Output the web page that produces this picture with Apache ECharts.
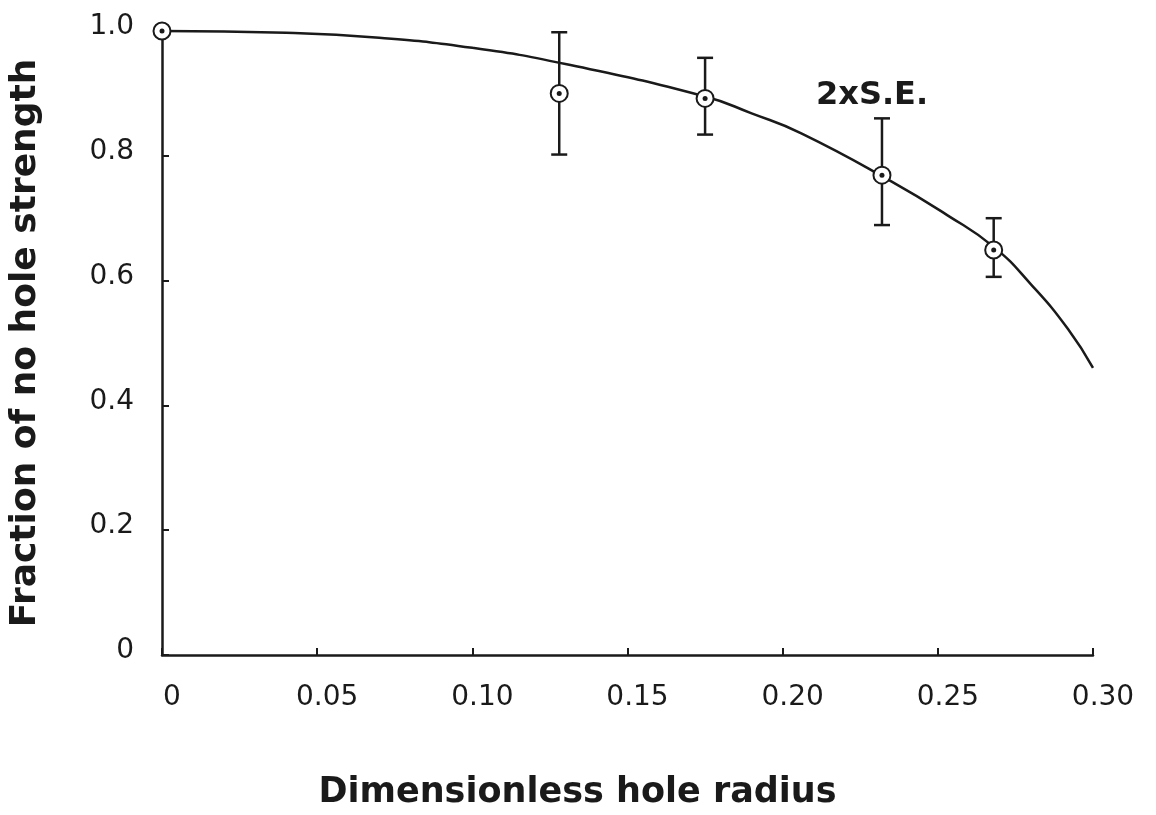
<!DOCTYPE html>
<html>
<head>
<meta charset="utf-8">
<script src="https://cdn.jsdelivr.net/npm/echarts@6/dist/echarts.min.js"></script>
<style>
  html, body { margin: 0; padding: 0; background: #fff; }
  #chart { width: 1156px; height: 815px; }
</style>
</head>
<body>
<div id="chart"></div>
<script>
// Measured strength points (mean and 2 x standard error bounds)
const radius   = [0, 0.128, 0.175, 0.232, 0.268];
const strength = [1.0, 0.900, 0.892, 0.769, 0.649];
const seHigh   = [null, 0.998, 0.957, 0.860, 0.700];
const seLow    = [null, 0.802, 0.834, 0.689, 0.606];

// Fitted curve
const fitRadius   = [0, 0.040, 0.070, 0.100, 0.130, 0.175, 0.190, 0.206, 0.235, 0.253, 0.268, 0.280, 0.292, 0.300];
const fitStrength = [1.0, 0.997, 0.989, 0.973, 0.947, 0.895, 0.868, 0.836, 0.759, 0.705, 0.654, 0.594, 0.522, 0.460];

// Tick labels
const xTickLabels = ['0', '0.05', '0.10', '0.15', '0.20', '0.25', '0.30'];
const yTickLabels = ['0', '0.2', '0.4', '0.6', '0.8', '1.0'];

const ink = '#1a1a1a';
const font = '"DejaVu Sans", sans-serif';

const points = radius.map((r, i) => [r, strength[i]]);
const bars = radius
  .map((r, i) => [r, seLow[i], seHigh[i]])
  .filter(d => d[1] !== null);
const fit = fitRadius.map((r, i) => [r, fitStrength[i]]);

const chart = echarts.init(document.getElementById('chart'), null, { renderer: 'canvas' });

chart.setOption({
  animation: false,
  backgroundColor: '#ffffff',
  grid: { left: 160, right: 63, top: 31, bottom: 157 },
  xAxis: {
    type: 'value',
    min: 0, max: 0.3, interval: 0.05,
    name: 'Dimensionless hole radius',
    nameLocation: 'middle',
    nameGap: 120,
    nameTextStyle: {
      fontFamily: font, fontWeight: 'bold', fontSize: 35, color: ink,
      padding: [0, 100, 0, 0]
    },
    axisLine: { lineStyle: { color: ink, width: 2.5 } },
    axisTick: { inside: true, length: 7, lineStyle: { color: ink, width: 2 } },
    splitLine: { show: false },
    axisLabel: {
      margin: 29,
      fontFamily: font, fontSize: 28, color: ink,
      padding: [0, 0, 0, 20],
      formatter: v => xTickLabels[Math.round(v / 0.05)]
    }
  },
  yAxis: {
    type: 'value',
    min: 0, max: 1, interval: 0.2,
    name: 'Fraction of no hole strength',
    nameLocation: 'middle',
    nameGap: 118,
    nameRotate: 90,
    nameTextStyle: { fontFamily: font, fontWeight: 'bold', fontSize: 36, color: ink },
    axisLine: { lineStyle: { color: ink, width: 2.5 } },
    axisTick: { inside: true, length: 7, lineStyle: { color: ink, width: 2 } },
    splitLine: { show: false },
    axisLabel: {
      margin: 28,
      fontFamily: font, fontSize: 28, color: ink,
      verticalAlign: 'bottom',
      lineHeight: 8,
      formatter: v => yTickLabels[Math.round(v / 0.2)]
    }
  },
  graphic: [{
    type: 'text',
    left: 816, top: 80,
    style: { text: '2xS.E.', font: 'bold 32px "DejaVu Sans", sans-serif', fill: ink }
  }],
  series: [
    {
      type: 'line',
      data: fit,
      smooth: 0.5,
      symbol: 'none',
      clip: false,
      lineStyle: { color: ink, width: 2.5 },
      z: 2
    },
    {
      type: 'custom',
      data: bars,
      clip: false,
      z: 3,
      renderItem: (params, api) => {
        const top = api.coord([api.value(0), api.value(2)]);
        const bot = api.coord([api.value(0), api.value(1)]);
        const cap = 8;
        const st = { stroke: ink, lineWidth: 2.5 };
        return {
          type: 'group',
          children: [
            { type: 'line', shape: { x1: top[0], y1: top[1], x2: bot[0], y2: bot[1] }, style: st },
            { type: 'line', shape: { x1: top[0] - cap, y1: top[1], x2: top[0] + cap, y2: top[1] }, style: st },
            { type: 'line', shape: { x1: bot[0] - cap, y1: bot[1], x2: bot[0] + cap, y2: bot[1] }, style: st }
          ]
        };
      },
      encode: { x: 0, y: [1, 2] }
    },
    {
      type: 'scatter',
      data: points,
      symbol: 'circle',
      symbolSize: 17,
      clip: false,
      itemStyle: { color: '#ffffff', borderColor: ink, borderWidth: 2, opacity: 1 },
      z: 4
    },
    {
      type: 'scatter',
      data: points,
      symbol: 'circle',
      symbolSize: 5,
      clip: false,
      itemStyle: { color: ink, opacity: 1 },
      z: 5
    }
  ]
});
</script>
</body>
</html>
